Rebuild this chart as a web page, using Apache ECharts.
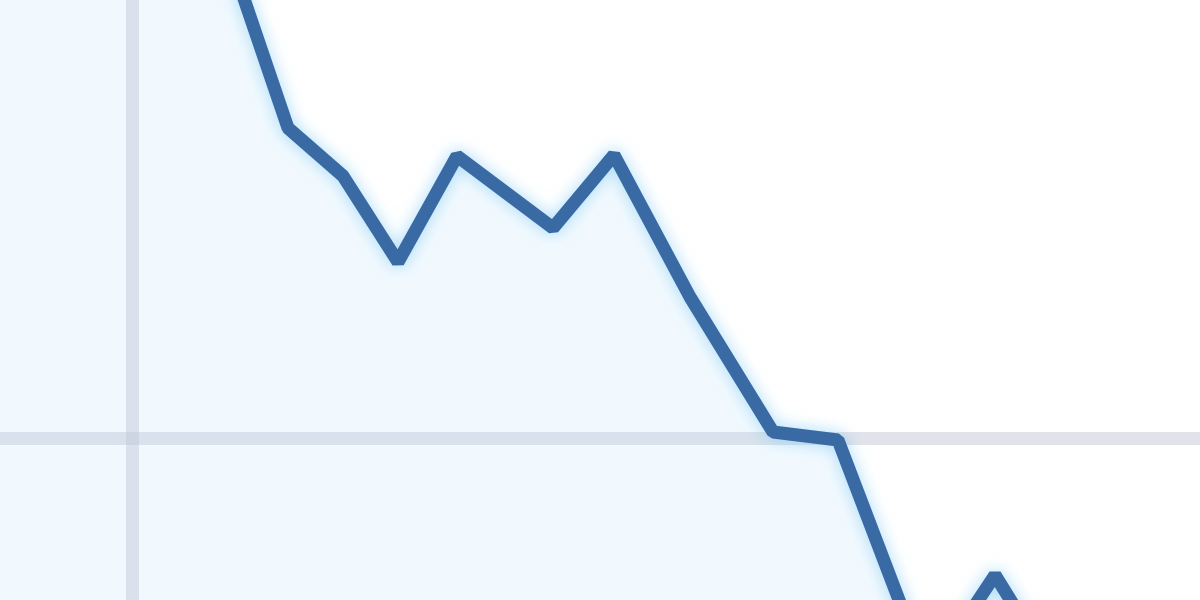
<!DOCTYPE html>
<html>
<head>
<meta charset="utf-8">
<title>Line detail</title>
<script src="https://cdn.jsdelivr.net/npm/echarts@6/dist/echarts.min.js"></script>
<style>
  html, body { margin: 0; padding: 0; background: #ffffff; }
  #chart { width: 1200px; height: 600px; }
</style>
</head>
<body>
<div id="chart"></div>
<script>
// values (axis origin sits where the two grid lines cross)
const xValues = [-2.12, 0.92, 1.56, 2.11, 2.66, 3.25, 4.21, 4.82, 5.58, 6.41, 7.06, 7.96, 8.63, 9.28, 11.28];
const yValues = [10.38, 4.98, 3.10, 2.62, 1.76, 2.82, 2.10, 2.83, 1.41, 0.06, -0.02, -2.38, -1.37, -2.42, -2.82];

// visible window of the axes
const xRange = [-1.32, 10.68];
const yRange = [-1.62, 4.38];

const chart = echarts.init(document.getElementById('chart'));

const points = xValues.map((x, i) => [x, yValues[i]]);

const gridLine = {
  show: true,
  onZero: true,
  lineStyle: { color: 'rgba(190,192,208,0.45)', width: 13 }
};

chart.setOption({
  animation: false,
  backgroundColor: '#ffffff',
  grid: { left: 0, right: 0, top: 0, bottom: 0, containLabel: false, outerBoundsMode: 'none' },
  xAxis: {
    type: 'value',
    min: xRange[0],
    max: xRange[1],
    axisLine: gridLine,
    axisTick: { show: false },
    axisLabel: { show: false },
    splitLine: { show: false }
  },
  yAxis: {
    type: 'value',
    min: yRange[0],
    max: yRange[1],
    axisLine: gridLine,
    axisTick: { show: false },
    axisLabel: { show: false },
    splitLine: { show: false }
  },
  series: [
    {
      type: 'line',
      data: points,
      showSymbol: false,
      smooth: false,
      lineStyle: {
        color: '#3a6aa3',
        width: 13,
        shadowColor: 'rgba(110,195,245,0.6)',
        shadowBlur: 16
      },
      areaStyle: {
        origin: 'start',
        color: 'rgba(175,220,248,0.25)'
      }
    }
  ]
});
</script>
</body>
</html>
